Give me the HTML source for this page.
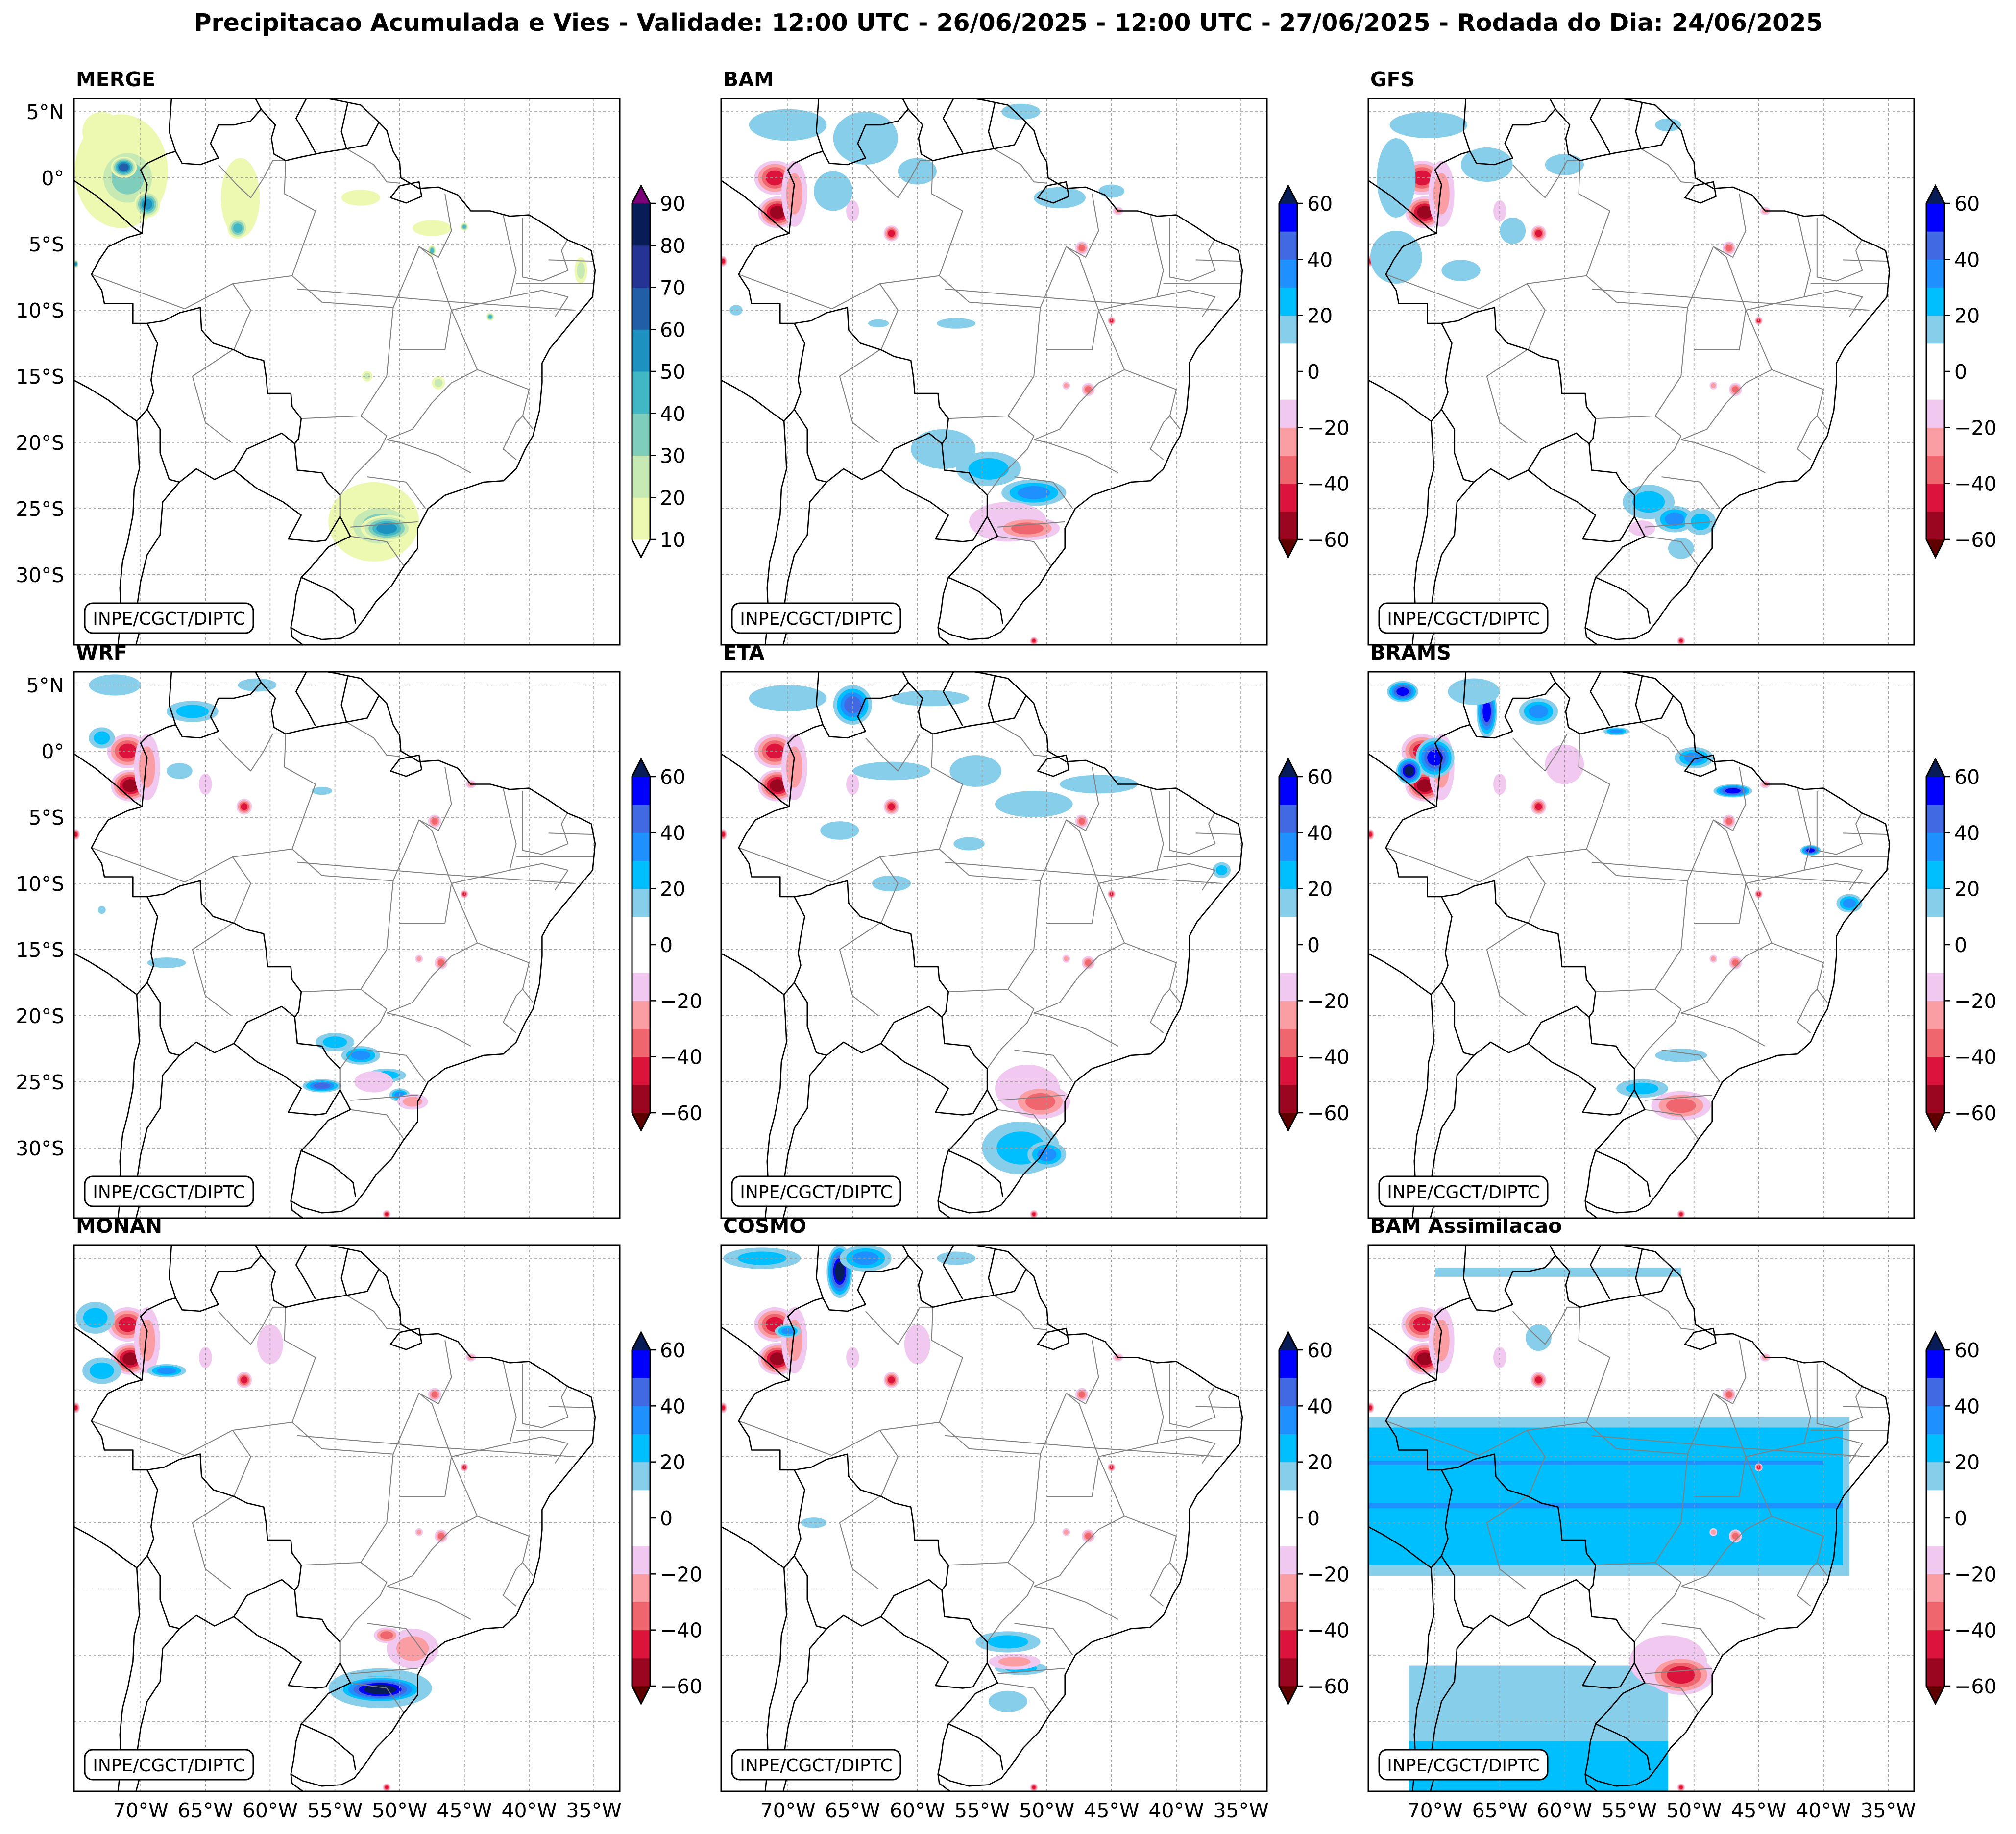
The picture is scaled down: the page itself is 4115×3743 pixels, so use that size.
<!DOCTYPE html>
<html><head><meta charset="utf-8"><style>
html,body{margin:0;padding:0;background:#fff;}
svg{display:block;font-family:"DejaVu Sans","Liberation Sans",sans-serif;}
</style></head><body>
<svg id="fig" xmlns="http://www.w3.org/2000/svg" width="4115" height="3743" viewBox="0 0 4115 3743">
<rect width="4115" height="3743" fill="#fff"/>
<text x="2058" y="63" font-size="49" font-weight="bold" text-anchor="middle">Precipitacao Acumulada e Vies - Validade: 12:00 UTC - 26/06/2025 - 12:00 UTC - 27/06/2025 - Rodada do Dia: 24/06/2025</text>
</svg>
<script>
// ---- data ----
const panelNames = ["MERGE","BAM","GFS","WRF","ETA","BRAMS","MONAN","COSMO","BAM Assimilacao"];
const latTicks = [5,0,-5,-10,-15,-20,-25,-30];
const lonTicks = [-70,-65,-60,-55,-50,-45,-40,-35];
const mergeLevels = [10,20,30,40,50,60,70,80,90];
const biasLevels = [-60,-50,-40,-30,-20,-10,10,20,30,40,50,60];
const mergeTickLabels = ["10","20","30","40","50","60","70","80","90"];
const biasTickLabels = ["60","40","20","0","−20","−40","−60"];
const biasTickValues = [60,40,20,0,-20,-40,-60];
// blobs: [lon, lat, rx(deg), ry(deg), value]
const mergeBlobs = [[-71.5,0.5,3.6,4.3,15],[-71,0,2.5,2.5,35],[-71.3,0.8,1,0.8,65],[-69.5,-2,1,1,55],[-73,3.5,1.5,1.5,15],
 [-62.3,-1.5,1.5,3,15],[-62.5,-3.8,0.8,0.8,40],[-53,-1.5,1.5,0.6,15],[-47.5,-3.8,1.5,0.6,15],[-45,-3.7,0.3,0.3,45],
 [-52,-26,3.5,3,15],[-51.5,-26.3,2.8,1.8,30],[-51,-26.5,2,1,55],[-52.5,-15,0.4,0.4,20],[-47,-15.5,0.5,0.5,25],
 [-47.5,-5.5,0.3,0.4,45],[-36,-7,0.5,1,20],[-75,-6.5,0.2,0.3,50],[-43,-10.5,0.3,0.3,40]];
const obsDeficit = [[-71,0,1.6,1.3,-45],[-70.8,-2.6,1.5,1.2,-50],[-69.5,-1.2,1,2.5,-25],[-62,-4.2,0.6,0.6,-40],
 [-47.3,-5.3,0.5,0.5,-35],[-45,-10.8,0.3,0.3,-45],[-46.8,-16,0.5,0.5,-35],[-48.5,-15.7,0.3,0.3,-25],
 [-75,-6.3,0.3,0.4,-45],[-44.5,-2.5,0.4,0.3,-25],[-65,-2.5,0.5,0.8,-15],[-51,-35,0.3,0.3,-40]];
const bamBlobs = [[-70,4,3,1.2,15],[-64,3,2.5,2,15],[-60,0.5,1.5,1,15],[-66.5,-1,1.5,1.5,15],[-52,5,1.5,0.6,15],
 [-49,-1.5,2,0.8,15],[-45,-1,1,0.5,15],[-57,-11,1.5,0.4,15],[-63,-11,0.8,0.3,15],[-74,-10,0.5,0.4,15],
 [-58,-20.5,2.5,1.5,15],[-54.5,-22,2.5,1.3,25],[-51,-23.8,2.5,1,30],[-53,-26,3,1.5,-15],[-51.5,-26.5,2.5,0.9,-35]];
const gfsBlobs = [[-70.5,4,3,1,15],[-73,0,1.5,3,15],[-66,1,2,1.3,15],[-60,1,1.5,0.8,15],[-73,-6,2,2,15],
 [-68,-7,1.5,0.8,15],[-64,-4,1,1,15],[-52,4,1,0.5,15],[-53.5,-24.5,2,1.3,25],[-51.5,-25.8,1.5,1,35],
 [-49.5,-26,1.2,1,20],[-51,-28,1,0.8,15],[-54,-26.5,1,0.6,-15]];
const wrfBlobs = [[-72,5,2,0.8,15],[-66,3,2,0.8,20],[-61,5,1.5,0.5,15],[-73,1,1,0.8,20],[-67,-1.5,1,0.6,15],
 [-56,-3,0.8,0.3,15],[-68,-16,1.5,0.4,15],[-73,-12,0.3,0.3,15],[-55,-22,1.5,0.7,25],[-53,-23,1.5,0.7,30],
 [-56,-25.3,1.5,0.5,45],[-51,-24.5,1.5,0.5,20],[-50,-26,0.8,0.5,30],[-52,-25,1.5,0.8,-15],[-49,-26.5,1.2,0.6,-20]];
const etaBlobs = [[-65,3.5,1.5,1.5,40],[-70,4,3,1,15],[-59,4,3,0.6,15],[-62,-1.5,3,0.7,15],[-55.5,-1.5,2,1.2,15],
 [-51,-4,3,1,15],[-46,-2.5,3,0.7,15],[-56,-7,1.2,0.5,15],[-66,-6,1.5,0.7,15],[-62,-10,1.5,0.6,15],
 [-52,-30,3,2,20],[-50,-30.5,1.5,1,30],[-36.5,-9,0.7,0.6,20],[-51.5,-25.5,2.5,1.8,-15],[-50.5,-26.5,2.3,1.3,-35]];
const bramsBlobs = [[-72.5,4.5,1.2,0.8,50],[-66,3,0.8,2,50],[-62,3,1.5,1,30],[-70,-0.5,1.5,1.5,50],[-72,-1.5,1,1,65],
 [-67,4.5,2,1,15],[-56,1.5,1,0.3,30],[-50,-0.5,1.5,0.8,30],[-47,-3,1.5,0.5,55],[-41,-7.5,0.8,0.4,55],
 [-38,-11.5,1,0.7,30],[-54,-25.5,2,0.7,20],[-51,-23,2,0.5,15],[-60,-1,1.5,1.5,-15],[-51,-26.8,2.3,1.1,-35]];
const monanBlobs = [[-73.5,0.5,1.5,1.2,20],[-73,-3.5,1.5,1,20],[-68,-3.5,1.5,0.5,30],[-51.5,-27.5,4,1.5,20],
 [-51.5,-27.6,3.3,1,70],[-49,-24.5,2,1.5,-20],[-51,-23.5,1,0.6,-30],[-60,-1.5,1,1.5,-15]];
const cosmoBlobs = [[-72,5,3,0.8,20],[-66,4,1,2,65],[-64,5,2,1,30],[-57,5,1.5,0.5,15],[-70,-0.5,1,0.5,30],
 [-68,-15,1,0.4,15],[-53,-24,2.5,0.8,20],[-52,-26,2,0.5,25],[-53,-28.5,1.5,0.8,15],[-52.5,-25.5,2,0.6,-25],[-60,-1.5,1,1.5,-15]];
const assimBlobs = [[-52,-25.5,3,2,-15],[-51,-26.5,2.5,1.5,-40],[-62,-1,1,1,15]];
// rectangular bands in BAM Assimilacao: [lonW, lonE, latN, latS, value]
const assimBands = [[-75.15,-38,-7,-19,15],[-75.15,-38.5,-7.8,-18.2,25],[-75.15,-40,-10.3,-10.6,35],[-75.15,-38.5,-13.5,-13.9,35],
 [-72,-52,-25.8,-36,15],[-72,-52,-31.5,-36,25],[-70,-51,4.3,3.6,15]];
const panelBlobs = [mergeBlobs,bamBlobs,gfsBlobs,wrfBlobs,etaBlobs,bramsBlobs,monanBlobs,cosmoBlobs,assimBlobs];

// ---- map geometry (lon,lat) ----
const blackLines = [
 [[-57.5,6.3],[-55,5.9],[-54,5.7],[-53,5.5],[-51.6,4.2],[-51,3.6],[-50.5,2],[-50,1.2],[-49.9,0],[-48.5,-0.8],[-47,-0.7],[-45.5,-1.3],[-44.5,-2.5],[-43,-2.5],[-41.5,-2.9],[-40,-2.8],[-38.5,-3.7],[-37,-4.7],[-36,-5.1],[-35.2,-5.5],[-34.9,-7],[-35.1,-9],[-36.3,-10.4],[-37.3,-11.6],[-38.4,-12.9],[-39,-14],[-39,-15.5],[-39.2,-17.6],[-39.7,-19.5],[-40.3,-20.5],[-41,-22],[-42,-22.9],[-43.5,-23],[-44.7,-23.4],[-46.5,-24],[-47.8,-25],[-48.6,-26.5],[-48.6,-28],[-49.7,-29.4],[-50.6,-30.8],[-51.8,-32],[-52.7,-33.3],[-53.5,-34.3],[-54.5,-34.8],[-56,-34.9],[-57.5,-34.5],[-58.4,-34],[-58.3,-34.7],[-57.2,-35.5]],
 [[-50,-0.6],[-48.5,-0.3],[-48.3,-1.4],[-49.5,-1.9],[-50.7,-1.5],[-50,-0.6]],
 [[-75.6,-14.5],[-75.15,-15.3],[-74,-15.9],[-72.5,-16.8],[-71.3,-17.7],[-70.3,-18.4],[-70.2,-20],[-70.1,-22],[-70.5,-23.5],[-70.6,-25.5],[-71,-27.5],[-71.4,-29],[-71.6,-31],[-71.5,-33],[-71.8,-35.8]],
 [[-51.6,4.2],[-52.5,2.5],[-54.1,2.2],[-56,1.9],[-57.5,1.6],[-58.8,1.3],[-59.7,1.8],[-59.9,3],[-59.6,4],[-60.7,5.2],[-61.5,4.3],[-62.8,4],[-64,4],[-64.6,2.6],[-64,1.5],[-65.4,1],[-66.8,1.1],[-67.3,2],[-68,1.8],[-69.5,1.1],[-70,0.6],[-69.5,-0.5],[-69.6,-1.2],[-69.9,-4.2],[-71,-4.5],[-72.5,-5.2],[-73.2,-6.2],[-73.8,-7.3],[-73,-8.5],[-72.8,-9.5],[-70.6,-9.5],[-70.6,-11],[-69.5,-11],[-68.2,-10.8],[-67,-10.2],[-65.4,-9.8],[-65.3,-11.5],[-64.4,-12.5],[-62.8,-13],[-61.8,-13.5],[-60.5,-13.8],[-60.3,-15.1],[-60.2,-16.3],[-58.4,-16.3],[-58.3,-17.3],[-57.6,-18.2],[-57.8,-19.7],[-58.1,-20.1],[-57.9,-22.1],[-56,-22.3],[-55.6,-23],[-54.6,-24],[-54.6,-25.6],[-53.8,-27.1],[-55.5,-27.9],[-56.9,-29.5],[-57.6,-30.2],[-56,-30.9],[-55.2,-31.3],[-53.6,-32.6],[-53.4,-33.7]],
 [[-69.5,-11],[-68.7,-12.5],[-69,-14],[-69.2,-15.3],[-69,-16.2],[-69.5,-17.5],[-70.3,-18.4]],
 [[-69.5,-17.5],[-68.5,-19],[-68.5,-20.8],[-67.8,-22.8],[-67,-23],[-68.3,-24.5],[-68.5,-27],[-69.5,-28.5],[-70,-30.5],[-70.3,-32.5],[-70,-34],[-70.5,-35.8]],
 [[-67,-23],[-65.7,-22],[-64.3,-22.8],[-62.8,-22.1],[-61.8,-20.5],[-59.1,-19.3],[-58.1,-20.1]],
 [[-62.8,-22.1],[-61,-23.5],[-59,-24.5],[-57.6,-25.5],[-58.6,-27.3],[-56.5,-27.5],[-55.7,-27.4],[-54.6,-25.6]],
 [[-57.6,-30.2],[-58,-31.5],[-58.2,-33],[-58.4,-34]],
 [[-69.9,-4.2],[-70.5,-3.8],[-72,-2.5],[-73.5,-1.3],[-75.3,-0.1]],
 [[-67.3,2],[-67.8,3.5],[-67.6,6.3]],
 [[-60.7,5.2],[-61.3,6.3]],
 [[-56.5,1.9],[-57.1,3],[-58,4.5],[-57.2,6]],
 [[-54.1,2.2],[-54.5,3.5],[-54,5.7]]
];
const grayLines = [
 [[-73.8,-7.3],[-66.6,-9.9]],[[-66.6,-9.9],[-62.9,-8],[-58.3,-7.4]],[[-58.3,-7.4],[-56.5,-2.5],[-58.9,-1.2],[-58.8,1.3]],
 [[-62.8,-13],[-61.5,-10],[-62.9,-8]],[[-50.5,-9.8],[-56,-9.4],[-58.3,-7.4]],
 [[-50.5,-9.8],[-48.5,-5.2],[-47.5,-6],[-46,-10],[-46.5,-13],[-50,-13]],
 [[-50.5,-9.8],[-51,-15],[-53,-18],[-57.6,-18.2]],[[-53,-18],[-51,-19.5],[-51.5,-20.5],[-53.5,-22.5],[-54.6,-24]],
 [[-46,-10],[-44,-14.5],[-46,-15.5],[-47.5,-17],[-49,-19],[-51,-19.8]],[[-44,-14.5],[-40,-16],[-40.5,-18],[-39.7,-19]],
 [[-44.5,-22.3],[-47,-21],[-50,-20],[-51,-19.8]],[[-41,-21.3],[-42,-20.5],[-41,-18.5],[-40.5,-18]],
 [[-53.8,-26.4],[-48.6,-26]],[[-53.8,-27.1],[-51,-27.5],[-49.7,-29.3]],[[-52.5,-22.6],[-49.5,-23],[-48,-25]],
 [[-46,-10],[-41.5,-9],[-39,-8.5],[-37,-9],[-38,-10.5]],[[-46.5,-1.2],[-46,-4],[-47,-6],[-48.5,-5.2]],
 [[-42,-2.8],[-41.5,-5],[-41,-7],[-41.5,-9]],[[-40.5,-3],[-40.5,-7.5],[-39,-7.8],[-37,-7],[-37.5,-5.5],[-37,-4.6]],
 [[-38.5,-6.2],[-35,-6.3]],[[-41,-8],[-35,-8]],[[-58.8,1.3],[-59.8,1.3],[-60.5,0],[-61.5,-1.5],[-62.6,-0.5],[-64,1]],
 [[-54.1,2.2],[-52,1],[-51,-0.3],[-50,-0.4]],[[-57.9,-8.4],[-47,-9.3],[-36.5,-10]],[[-62.9,-13],[-66,-15],[-65,-18.5],[-63,-20]]
];

// ---- rendering ----
const NS = "http://www.w3.org/2000/svg";
const svg = document.getElementById('fig');
const PW = 1114, PH = 1115, LON0 = -75.15, LON1 = -33, LAT0 = 6, LAT1 = -35.3;
const mergeColors = ["#edf8b1","#c7e9b4","#7fcdbb","#41b6c4","#1d91c0","#225ea8","#253494","#081d58"];
const posColors = ["#87ceeb","#00bfff","#1e90ff","#4169e1","#0000ff","#081d58"];
const negColors = ["#f0c8f0","#fb9ea3","#f0666e","#dc143c","#9a0620","#5e0000"];

function mk(tag, attrs, parent){ const e = document.createElementNS(NS, tag); for (const k in attrs) e.setAttribute(k, attrs[k]); (parent||svg).appendChild(e); return e; }
function px(p, lon){ return p.x + (lon - LON0) / (LON1 - LON0) * PW; }
function py(p, lat){ return p.y + (LAT0 - lat) / (LAT0 - LAT1) * PH; }
function bandColors(v, merge){
  if (merge){ const out=[]; for (let i=0;i<8;i++){ if (v >= mergeLevels[i]) out.push(mergeColors[i]); } return out; }
  const out=[]; const a=Math.abs(v); const th=[10,20,30,40,50,60]; const cols = v>0?posColors:negColors;
  for (let i=0;i<6;i++){ if (a >= th[i]) out.push(cols[i]); } return out;
}
function line(p, pts, g, stroke, w){
  const d = pts.map((q,i)=>(i?'L':'M')+px(p,q[0]).toFixed(1)+','+py(p,q[1]).toFixed(1)).join(' ');
  return mk('path',{d:d,fill:'none',stroke:stroke,'stroke-width':w,'stroke-linejoin':'round'},g);
}

panelNames.forEach((name, idx)=>{
  const c = idx % 3, r = Math.floor(idx/3);
  const p = {x: 151 + 1321*c, y: 201 + 1170*r};
  const isMerge = idx === 0;
  const g = mk('g',{});
  
  
  const clip = mk('clipPath',{id:'clip'+idx}, g);
  mk('rect',{x:p.x,y:p.y,width:PW,height:PH}, clip);
  const map = mk('g',{'clip-path':'url(#clip'+idx+')'}, g);
  
  
  if (idx === 8){
    assimBands.forEach(b=>{
      const rct = mk('rect',{x:px(p,b[0]),y:py(p,b[2]),width:px(p,b[1])-px(p,b[0]),height:py(p,b[3])-py(p,b[2]),fill:bandColors(b[4],false).slice(-1)[0]}, map);
      
      
    });
  }
  let blobs = panelBlobs[idx];
  if (!isMerge) blobs = obsDeficit.concat(blobs);
  blobs.forEach(b=>{
    const cols = bandColors(b[4], isMerge); const n = cols.length;
    const cx = px(p,b[0]), cy = py(p,b[1]);
    const rx = b[2]*PW/(LON1-LON0), ry = b[3]*PH/(LAT0-LAT1);
    cols.forEach((col,k)=>{
      const s = 1 - (k/Math.max(n,1))*0.75;
      const el = mk('ellipse',{cx:cx.toFixed(1),cy:cy.toFixed(1),rx:(rx*s).toFixed(1),ry:(ry*s).toFixed(1),fill:col}, map);
      
      
    });
  });
  latTicks.forEach(lat=>{ const y=py(p,lat); mk('line',{x1:p.x,x2:p.x+PW,y1:y,y2:y,stroke:'#9a9a9a','stroke-width':1.6,'stroke-dasharray':'5,5'}, map); });
  lonTicks.forEach(lon=>{ const x=px(p,lon); mk('line',{x1:x,x2:x,y1:p.y,y2:p.y+PH,stroke:'#9a9a9a','stroke-width':1.6,'stroke-dasharray':'5,5'}, map); });
  grayLines.forEach(l=>line(p,l,map,'#808080',2));
  blackLines.forEach(l=>line(p,l,map,'#000',2.6));
  const fr = mk('rect',{x:p.x,y:p.y,width:PW,height:PH,fill:'none',stroke:'#000','stroke-width':3}, g);
  
  
  const t = mk('text',{x:p.x+4,y:p.y-25,'font-size':41,'font-weight':'bold'}, g);
  t.textContent = name;
  
  
  const lb = mk('g',{}, g);
  
  
  mk('rect',{x:p.x+22,y:p.y+1030,width:344,height:61,rx:16,fill:'#fff',stroke:'#000','stroke-width':3}, lb);
  const lt = mk('text',{x:p.x+194,y:p.y+1074,'font-size':36,'text-anchor':'middle'}, lb);
  lt.textContent = 'INPE/CGCT/DIPTC';
  if (c === 0 && r < 2){
    latTicks.forEach(lat=>{
      const tt = mk('text',{x:p.x-20,y:py(p,lat)+15,'font-size':41,'text-anchor':'end'}, g);
      tt.textContent = lat===0 ? '0°' : (Math.abs(lat) + '°' + (lat>0?'N':'S'));
      
      
    });
  }
  if (r === 2){
    lonTicks.forEach(lon=>{
      const tt = mk('text',{x:px(p,lon),y:p.y+PH+53,'font-size':41,'text-anchor':'middle'}, g);
      tt.textContent = Math.abs(lon) + '°W';
      
      
    });
  }
  const cb = mk('g',{}, g);
  
  
  const bx = p.x + PW + 25, bw = 37, top = p.y + 214, bot = p.y + 900, tip = 36;
  if (isMerge){
    const seg = (bot-top)/8;
    mergeColors.forEach((col,i)=>{ mk('rect',{x:bx,y:bot-(i+1)*seg,width:bw,height:seg+0.5,fill:col}, cb); });
    mk('polygon',{points:`${bx},${top} ${bx+bw},${top} ${bx+bw/2},${top-tip}`,fill:'#7a0177'}, cb);
    mk('polygon',{points:`${bx},${bot} ${bx+bw},${bot} ${bx+bw/2},${bot+tip}`,fill:'#fff'}, cb);
    mergeLevels.forEach((v,i)=>{
      const y = bot - i*seg;
      mk('line',{x1:bx+bw,x2:bx+bw+12,y1:y,y2:y,stroke:'#000','stroke-width':2.5}, cb);
      const tt = mk('text',{x:bx+bw+20,y:y+15,'font-size':41}, cb); tt.textContent = mergeTickLabels[i];
    });
  } else {
    const seg = (bot-top)/12;
    const segCols = negColors.slice(0,5).reverse().concat(['#fff','#fff']).concat(posColors.slice(0,5));
    segCols.forEach((col,i)=>{ mk('rect',{x:bx,y:bot-(i+1)*seg,width:bw,height:seg+0.5,fill:col}, cb); });
    mk('polygon',{points:`${bx},${top} ${bx+bw},${top} ${bx+bw/2},${top-tip}`,fill:posColors[5]}, cb);
    mk('polygon',{points:`${bx},${bot} ${bx+bw},${bot} ${bx+bw/2},${bot+tip}`,fill:negColors[5]}, cb);
    biasTickValues.forEach((v,i)=>{
      const y = top + (60 - v)/120*(bot-top);
      mk('line',{x1:bx+bw,x2:bx+bw+12,y1:y,y2:y,stroke:'#000','stroke-width':2.5}, cb);
      const tt = mk('text',{x:bx+bw+20,y:y+15,'font-size':41}, cb); tt.textContent = biasTickLabels[i];
    });
  }
  mk('polygon',{points:`${bx},${top} ${bx+bw/2},${top-tip} ${bx+bw},${top} ${bx+bw},${bot} ${bx+bw/2},${bot+tip} ${bx},${bot}`,fill:'none',stroke:'#000','stroke-width':3}, cb);
});
</script>
</body></html>
